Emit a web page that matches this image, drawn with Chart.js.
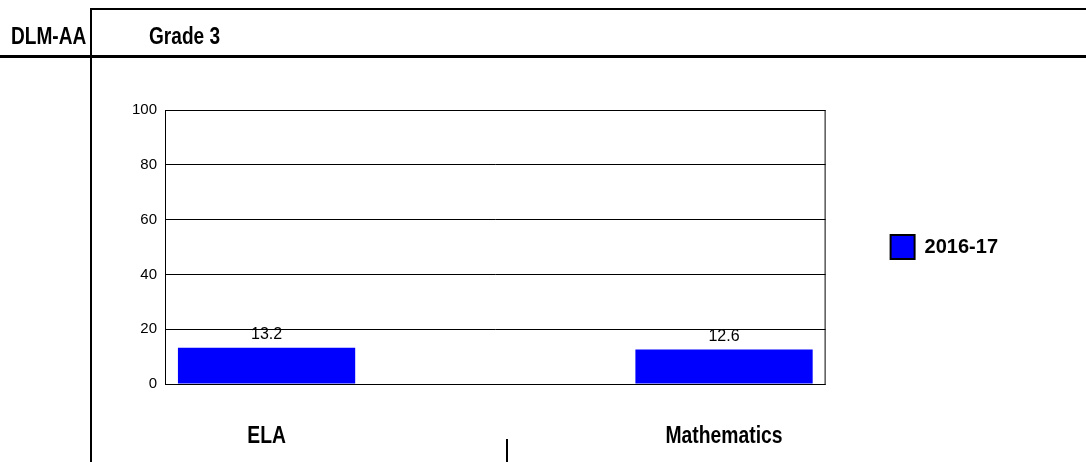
<!DOCTYPE html>
<html>
<head>
<meta charset="utf-8">
<script src="https://cdn.jsdelivr.net/npm/chart.js@4.4.1/dist/chart.umd.min.js"></script>
<style>
  html, body { margin: 0; padding: 0; background: #fff; }
  #page { position: relative; width: 1086px; height: 462px; overflow: hidden; font-family: "Liberation Sans", Arial, sans-serif; }
  #chartBox { position: absolute; left: 0; top: 0; width: 1086px; height: 462px; }
  .line { position: absolute; background: #000; }
  .head { position: absolute; font-weight: bold; font-size: 23px; line-height: 23px; color: #000;
          transform: scaleX(0.83); transform-origin: left center; white-space: nowrap; }
</style>
</head>
<body>
<div id="page">
  <div id="chartBox"><canvas id="gradeChart" width="1086" height="462"></canvas></div>
  <div class="line" style="left:90px;top:8px;width:996px;height:2px;"></div>
  <div class="line" style="left:90px;top:8px;width:2px;height:454px;"></div>
  <div class="line" style="left:0;top:55px;width:1086px;height:3px;"></div>
  <div class="line" style="left:506px;top:439px;width:2px;height:23px;"></div>
  <div class="head" style="left:11px;top:25px;">DLM-AA</div>
  <div class="head" style="left:149px;top:25px;">Grade 3</div>
</div>
<script>
const subjects = ["ELA", "Mathematics"];
const seriesLabel = "2016-17";
const elaValues = [13.2, null];
const mathValues = [null, 12.6];
const yTicks = [0, 20, 40, 60, 80, 100];

const barBlue = "#0000ff";
const baseFont = "'Liberation Sans', Arial, sans-serif";

// value labels above the bars
const valueLabels = {
  id: "valueLabels",
  afterDatasetsDraw(chart) {
    const ctx = chart.ctx;
    ctx.save();
    ctx.font = "16px " + baseFont;
    ctx.fillStyle = "#000";
    ctx.textAlign = "center";
    ctx.textBaseline = "bottom";
    chart.data.datasets.forEach((ds, i) => {
      chart.getDatasetMeta(i).data.forEach((bar, j) => {
        const v = ds.data[j];
        if (v == null) return;
        ctx.fillText(v.toFixed(1), bar.x, bar.y - 5);
      });
    });
    ctx.restore();
  }
};

// plot frame + subject names under each bar (narrowed bold text)
const frameAndNames = {
  id: "frameAndNames",
  afterDraw(chart) {
    const { ctx, chartArea } = chart;
    ctx.save();
    ctx.strokeStyle = "#000";
    ctx.lineWidth = 1;
    ctx.strokeRect(chartArea.left + 0.5, chartArea.top + 0.5,
      chartArea.right - chartArea.left - 1, chartArea.bottom - chartArea.top);
    ctx.font = "bold 23px " + baseFont;
    ctx.fillStyle = "#000";
    ctx.textAlign = "center";
    ctx.textBaseline = "middle";
    chart.data.datasets.forEach((ds, i) => {
      chart.getDatasetMeta(i).data.forEach((bar, j) => {
        if (ds.data[j] == null) return;
        ctx.save();
        ctx.translate(bar.x, chartArea.bottom + 53);
        ctx.scale(0.84, 1);
        ctx.fillText(subjects[j], 0, 0);
        ctx.restore();
      });
    });
    ctx.restore();
  }
};

new Chart(document.getElementById("gradeChart"), {
  type: "bar",
  data: {
    labels: subjects,
    datasets: [
      { label: seriesLabel, data: elaValues, backgroundColor: barBlue, borderWidth: 0,
        categoryPercentage: 0.77, barPercentage: 1.394 },
      { label: seriesLabel, data: mathValues, backgroundColor: barBlue, borderWidth: 0,
        categoryPercentage: 0.77, barPercentage: 1.394 }
    ]
  },
  options: {
    responsive: false,
    animation: false,
    layout: { padding: { top: 110, bottom: 78, left: 110, right: 78 } },
    plugins: {
      tooltip: { enabled: false },
      legend: {
        position: "right",
        labels: {
          boxWidth: 24,
          boxHeight: 24,
          padding: 65,
          color: "#000",
          font: { family: baseFont, size: 20, weight: "bold" },
          generateLabels(chart) {
            const items = Chart.defaults.plugins.legend.labels.generateLabels(chart).slice(0, 1);
            items.forEach(it => { it.strokeStyle = "#000"; it.lineWidth = 2; });
            return items;
          }
        }
      }
    },
    scales: {
      x: { display: false },
      y: {
        min: 0,
        max: 100,
        afterBuildTicks(scale) { scale.ticks = yTicks.map(v => ({ value: v })); },
        afterFit(scale) { scale.width = 55; },
        ticks: { color: "#000", padding: 8, font: { family: baseFont, size: 15 } },
        grid: { color: "#000", lineWidth: 1, drawTicks: false },
        border: { display: true, color: "#000", width: 1 }
      }
    }
  },
  plugins: [valueLabels, frameAndNames]
});
</script>
</body>
</html>
